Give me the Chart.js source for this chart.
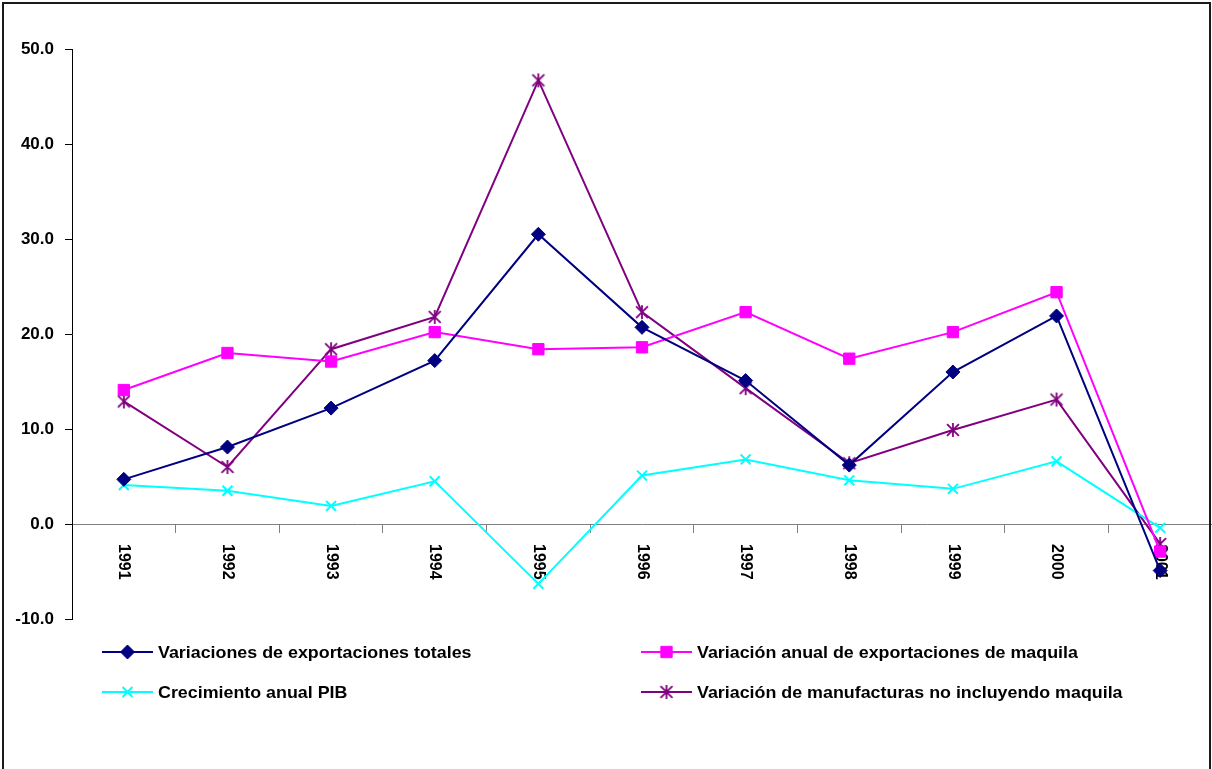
<!DOCTYPE html>
<html>
<head>
<meta charset="utf-8">
<script src="https://cdn.jsdelivr.net/npm/chart.js@4.4.0/dist/chart.umd.min.js"></script>
<style>
  html, body { margin: 0; padding: 0; background: #ffffff; }
  #wrap { position: relative; width: 1212px; height: 769px; }
  canvas { display: block; }
</style>
</head>
<body>
<div id="wrap"><canvas id="c" width="1212" height="769"></canvas></div>
<script>
// Years on the horizontal axis
const years = ['1991', '1992', '1993', '1994', '1995', '1996', '1997', '1998', '1999', '2000', '2001'];

// Annual variation, percent
const exportacionesTotales = [4.7, 8.1, 12.2, 17.2, 30.5, 20.7, 15.1, 6.2, 16.0, 21.9, -4.9];
const exportacionesMaquila = [14.1, 18.0, 17.1, 20.2, 18.4, 18.6, 22.3, 17.4, 20.2, 24.4, -2.9];
const crecimientoPIB = [4.1, 3.5, 1.9, 4.5, -6.3, 5.1, 6.8, 4.6, 3.7, 6.6, -0.4];
const manufacturasSinMaquila = [12.9, 6.0, 18.4, 21.8, 46.7, 22.3, 14.3, 6.4, 9.9, 13.1, -2.1];

// Value axis range
const yMin = -10;
const yMax = 50;
const yStep = 10;

const seriesNames = [
  'Variaciones de exportaciones totales',
  'Variación anual de exportaciones de maquila',
  'Crecimiento anual PIB',
  'Variación de manufacturas no incluyendo maquila'
];

const FONT = 'Liberation Sans, Arial, sans-serif';

// Asterisk marker: an X with a vertical bar
function asterisk(color, size) {
  const c = document.createElement('canvas');
  c.width = size; c.height = size;
  const g = c.getContext('2d');
  const m = size / 2, r = size / 2 - 1;
  g.strokeStyle = color;
  g.lineWidth = 1.8;
  g.beginPath();
  g.moveTo(m, m - r); g.lineTo(m, m + r);
  g.moveTo(m - r * 0.85, m - r * 0.85); g.lineTo(m + r * 0.85, m + r * 0.85);
  g.moveTo(m + r * 0.85, m - r * 0.85); g.lineTo(m - r * 0.85, m + r * 0.85);
  g.stroke();
  return c;
}
const starMarker = asterisk('#800080', 16);

function series(label, data, color, style, radius, extra) {
  return Object.assign({
    label: label,
    data: data,
    borderColor: color,
    backgroundColor: color,
    borderWidth: 2,
    tension: 0,
    pointStyle: style,
    pointRadius: radius,
    pointHoverRadius: radius,
    pointBorderColor: color,
    pointBackgroundColor: color,
    pointBorderWidth: 1,
    clip: false
  }, extra || {});
}

const datasets = [
  series(seriesNames[0], exportacionesTotales, '#000080', 'rectRot', 7),
  series(seriesNames[1], exportacionesMaquila, '#FF00FF', 'rect', 8),
  series(seriesNames[2], crecimientoPIB, '#00FFFF', 'crossRot', 7, { pointBorderWidth: 2 }),
  series(seriesNames[3], manufacturasSinMaquila, '#800080', starMarker, 8)
];

// Draws text stretched horizontally by a fixed factor
function wideText(ctx, text, x, y, stretch) {
  ctx.save();
  ctx.translate(x, y);
  ctx.scale(stretch, 1);
  ctx.fillText(text, 0, 0);
  ctx.restore();
}

// Rotated year labels read top-to-bottom beneath the zero line
const yearLabels = {
  id: 'yearLabels',
  beforeDatasetsDraw(chart) {
    const ctx = chart.ctx;
    const xs = chart.scales.x, ys = chart.scales.y;
    const y0 = ys.getPixelForValue(0) + 20;
    ctx.save();
    ctx.fillStyle = '#000000';
    ctx.font = 'bold 16px ' + FONT;
    ctx.textAlign = 'left';
    ctx.textBaseline = 'middle';
    years.forEach((lab, i) => {
      ctx.save();
      ctx.translate(xs.getPixelForValue(i), y0);
      ctx.rotate(Math.PI / 2);
      ctx.fillText(lab, 0, 0);
      ctx.restore();
    });
    ctx.restore();
  }
};

// Two-column legend under the plot plus the outer frame
const legendAndFrame = {
  id: 'legendAndFrame',
  afterDraw(chart) {
    const ctx = chart.ctx;
    const slots = [
      { x: 102, y: 652 }, { x: 641, y: 652 },
      { x: 102, y: 692 }, { x: 641, y: 692 }
    ];
    ctx.save();
    chart.data.datasets.forEach((ds, i) => {
      const s = slots[i];
      ctx.strokeStyle = ds.borderColor;
      ctx.lineWidth = 2;
      ctx.beginPath();
      ctx.moveTo(s.x, s.y);
      ctx.lineTo(s.x + 51, s.y);
      ctx.stroke();
      ctx.fillStyle = ds.pointBackgroundColor;
      ctx.strokeStyle = ds.pointBorderColor;
      ctx.lineWidth = ds.pointBorderWidth;
      Chart.helpers.drawPoint(ctx, {
        pointStyle: ds.pointStyle,
        radius: ds.pointRadius,
        rotation: 0,
        borderWidth: ds.pointBorderWidth
      }, s.x + 25.5, s.y);
      ctx.fillStyle = '#000000';
      ctx.font = 'bold 17px ' + FONT;
      ctx.textAlign = 'left';
      ctx.textBaseline = 'middle';
      wideText(ctx, ds.label, s.x + 56, s.y + 1, 1.05);
    });
    ctx.strokeStyle = '#1a1a1a';
    ctx.lineWidth = 2;
    ctx.strokeRect(3, 3, 1207, 800);
    ctx.restore();
  }
};

new Chart(document.getElementById('c'), {
  type: 'line',
  data: { labels: years, datasets: datasets },
  plugins: [yearLabels, legendAndFrame],
  options: {
    responsive: false,
    animation: false,
    devicePixelRatio: 1,
    layout: { autoPadding: false, padding: { top: 49, bottom: 150, left: 0, right: 0 } },
    plugins: { legend: { display: false }, tooltip: { enabled: false } },
    scales: {
      x: {
        type: 'category',
        offset: true,
        position: { y: 0 },
        grid: { offset: true, drawOnChartArea: false, drawTicks: true, tickLength: 8, color: '#808080', lineWidth: 1 },
        border: { color: '#808080', width: 1 },
        ticks: { display: false }
      },
      y: {
        min: yMin,
        max: yMax,
        afterFit(scale) { scale.width = 72; },
        grid: { drawOnChartArea: false, drawTicks: true, tickLength: 7, color: '#000000' },
        border: { color: '#000000', width: 1 },
        ticks: {
          stepSize: yStep,
          padding: 11,
          color: '#000000',
          font: { family: FONT, size: 17, weight: 'bold' },
          callback: v => Number(v).toFixed(1)
        }
      }
    }
  }
});
</script>
</body>
</html>
